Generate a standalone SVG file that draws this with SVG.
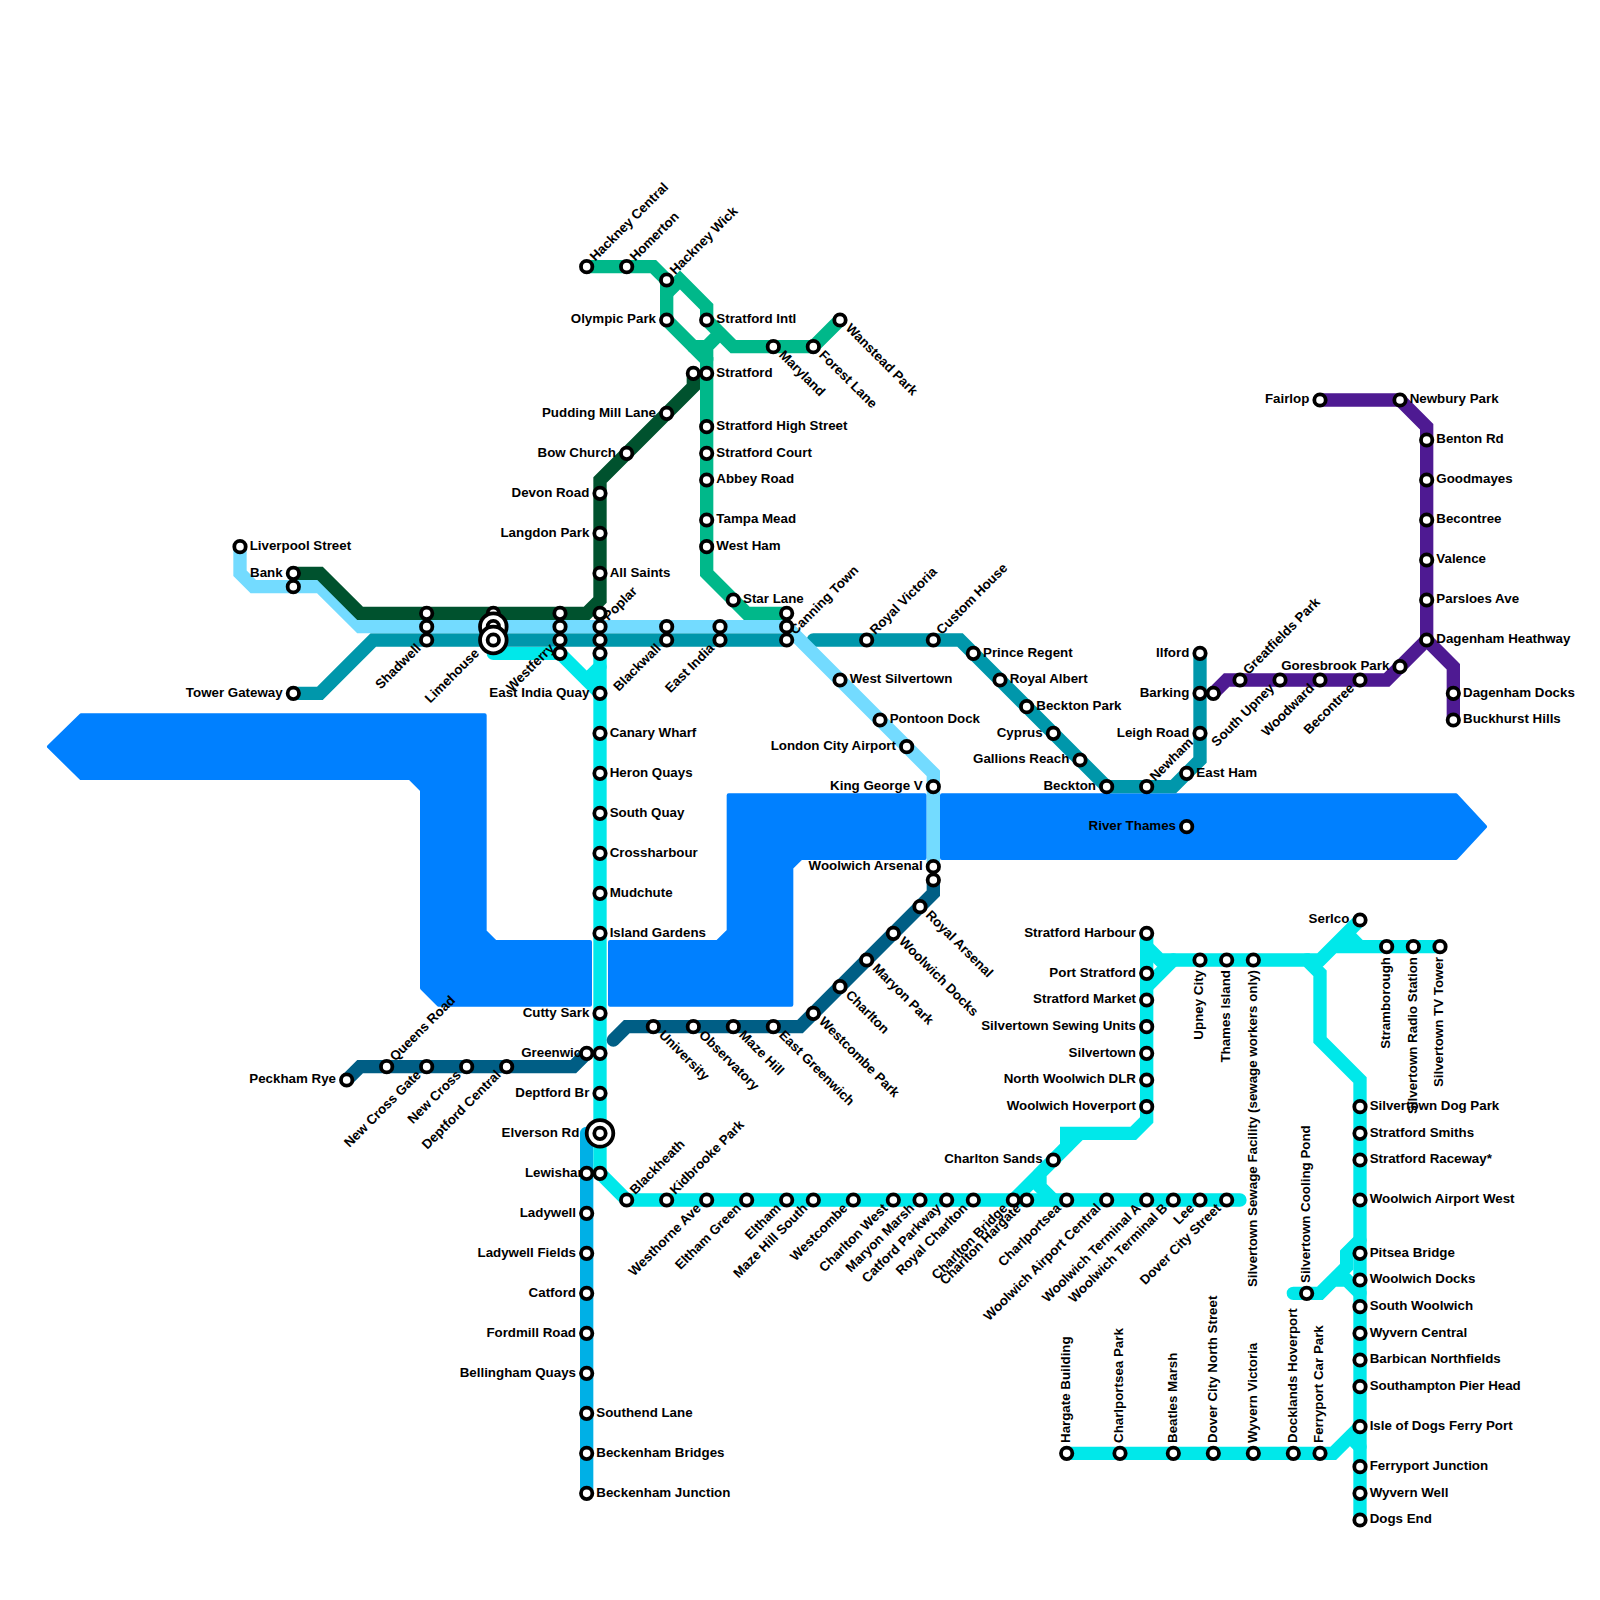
<svg xmlns="http://www.w3.org/2000/svg" width="1600" height="1600" viewBox="0 0 1600 1600">
<style>
.r{fill:#0080ff;stroke:#0080ff;stroke-width:4;stroke-linejoin:round}
.l{fill:none;stroke-width:13.33;stroke-linecap:round;stroke-linejoin:miter}
.cy{stroke:#00e8ea}.lb{stroke:#73dbff}.te{stroke:#0097ab}.dg{stroke:#00522e}.gr{stroke:#00b88a}.db{stroke:#005e85}.bb{stroke:#00b0e6}.pu{stroke:#4e1a92}
circle{fill:#fff;stroke:#000;stroke-width:3.8}
text{font:bold 13.33px "Liberation Sans",Arial,sans-serif;fill:#000}
.e{text-anchor:end}
text:not([transform]):not(.e){translate:-1px -1.3px}
text.e:not([transform]){translate:0 -1.3px}
text[transform*="rotate(45)"]{translate:-1.67px -1px}
text[transform*="rotate(-45)"]:not(.e){translate:1.83px 1.87px}
text.e[transform*="rotate(-45)"]{translate:0 -2px}
text[transform*="rotate(-90)"]{translate:-1.3px 0}
</style>
<g id="river">
<polygon class="r" points="49,746.67 81,715.33 484.67,715.33 484.67,931.5 495.2,942 590,942 590,1004.67 438.5,1004.67 422,988 422,790 410,778 81,778"/>
<polygon class="r" points="610,942 717.5,942 728.67,931 728.67,795.33 924.67,795.33 924.67,858 801,858 791.33,867.5 791.33,1004.67 610,1004.67"/>
<polygon class="r" points="942,795.33 1456,795.33 1485,826.67 1456,858 942,858"/>
</g>
<g id="connectors">
<path class="l bb" d="M586.67 1133.33V1493.33"/>
<path class="l cy" d="M600 653.33V1173.33L626.67 1200H1240"/>
<path class="l cy" d="M493.33 653.33H560L600 693.33M586.67 680L600 666.67"/>
<path class="l cy" d="M1146.67 933.33V1120L1133.33 1133.33H1066.67V1146.67L1013.33 1200M1080 1133.33L1040 1173.33V1186.67L1053.33 1200"/>
<path class="l cy" d="M1146.67 946.67L1160 960H1306.67L1320 973.33V1040L1360 1080V1520"/>
<path class="l cy" d="M1146.67 986.67L1173.33 960M1306.67 960H1320L1360 920M1333.33 946.67H1440M1346.67 933.33L1360 946.67"/>
<path class="l cy" d="M1293.33 1293.33H1320L1346.67 1266.67V1253.33L1360 1240M1333.33 1280H1346.67L1360 1293.33"/>
<path class="l cy" d="M1066.67 1453.33H1333.33L1360 1426.67M1350 1436.67L1360 1446.67"/>
<path class="l db" d="M346.67 1080L360 1066.67H573.33L586.67 1053.33"/>
<path class="l db" d="M613.33 1040L626.67 1026.67H800L933.33 893.33V880"/>
<path class="l gr" d="M586.67 266.67H653.33L666.67 280V320L706.67 360V573.33L746.67 613.33H786.67"/>
<path class="l gr" d="M666.67 293.33L680 280L706.67 306.67V320L733.33 346.67H813.33L840 320M720 333.33L706.67 346.67V360M693.33 346.67H706.67"/>
<path class="l te" d="M293.33 693.33H320L373.33 640H786.67"/>
<path class="l te" d="M813.33 640H960L1106.67 786.67H1173.33L1200 760V653.33"/>
<path class="l lb" d="M240 546.67V573.33L253.33 586.67H320L360 626.67H786.67L800 640L933.33 773.33V866.67"/>
<path class="l dg" d="M293.33 573.33H320L360 613.33H586.67L600 600V480L693.33 386.67V373.33"/>
<path class="l pu" d="M1320 400H1400L1426.67 426.67V640L1453.33 666.67V720M1426.67 640L1386.67 680H1226.67L1213.33 693.33"/>
</g>
<g id="n1"><text x="250.67" y="551.17">Liverpool Street</text><circle cx="240" cy="546.67" r="5.7"/></g>
<g id="n2"><text class="e" x="282.67" y="577.83">Bank</text><circle cx="293.33" cy="586.67" r="5.7"/><circle cx="293.33" cy="573.33" r="5.7"/></g>
<g id="n3"><text class="e" x="282.67" y="697.83">Tower Gateway</text><circle cx="293.33" cy="693.33" r="5.7"/></g>
<g id="n4"><text class="e" transform="translate(421.67 651) rotate(-45)">Shadwell</text><circle cx="426.67" cy="613.33" r="5.7"/><circle cx="426.67" cy="626.67" r="5.7"/><circle cx="426.67" cy="640" r="5.7"/></g>
<g id="n5"><text class="e" transform="translate(480 656) rotate(-45)">Limehouse</text><circle cx="493.33" cy="613.33" r="5.7"/><circle cx="493.33" cy="626.67" r="13.3"/><circle cx="493.33" cy="626.67" r="5.7"/><circle cx="493.33" cy="640" r="13.3"/><circle cx="493.33" cy="640" r="5.7"/></g>
<g id="n6"><text class="e" transform="translate(555 651) rotate(-45)">Westferry</text></g>
<g id="n6b"><circle cx="560" cy="613.33" r="5.7"/><circle cx="560" cy="626.67" r="5.7"/><circle cx="560" cy="640" r="5.7"/><circle cx="560" cy="653.33" r="5.7"/></g>
<g id="n7"><text transform="translate(606.67 619.5) rotate(-45)">Poplar</text><circle cx="600" cy="613.33" r="5.7"/><circle cx="600" cy="626.67" r="5.7"/><circle cx="600" cy="640" r="5.7"/><circle cx="600" cy="653.33" r="5.7"/></g>
<g id="n8"><text class="e" transform="translate(661.67 651) rotate(-45)">Blackwall</text><circle cx="666.67" cy="626.67" r="5.7"/><circle cx="666.67" cy="640" r="5.7"/></g>
<g id="n9"><text class="e" transform="translate(715 651) rotate(-45)">East India</text><circle cx="720" cy="626.67" r="5.7"/><circle cx="720" cy="640" r="5.7"/></g>
<g id="n10"><text transform="translate(793.33 633.33) rotate(-45)">Canning Town</text><circle cx="786.67" cy="613.33" r="5.7"/><circle cx="786.67" cy="626.67" r="5.7"/><circle cx="786.67" cy="640" r="5.7"/></g>
<g id="n11"><text class="e" x="589.33" y="697.83">East India Quay</text><circle cx="600" cy="693.33" r="5.7"/></g>
<g id="n12"><text x="610.67" y="737.83">Canary Wharf</text><circle cx="600" cy="733.33" r="5.7"/></g>
<g id="n13"><text x="610.67" y="777.83">Heron Quays</text><circle cx="600" cy="773.33" r="5.7"/></g>
<g id="n14"><text x="610.67" y="817.83">South Quay</text><circle cx="600" cy="813.33" r="5.7"/></g>
<g id="n15"><text x="610.67" y="857.83">Crossharbour</text><circle cx="600" cy="853.33" r="5.7"/></g>
<g id="n16"><text x="610.67" y="897.83">Mudchute</text><circle cx="600" cy="893.33" r="5.7"/></g>
<g id="n17"><text x="610.67" y="937.83">Island Gardens</text><circle cx="600" cy="933.33" r="5.7"/></g>
<g id="n18"><text class="e" x="589.33" y="1017.83">Cutty Sark</text><circle cx="600" cy="1013.33" r="5.7"/></g>
<g id="n19"><text class="e" x="589.33" y="1057.83">Greenwich</text><circle cx="600" cy="1053.33" r="5.7"/><circle cx="586.67" cy="1053.33" r="5.7"/></g>
<g id="n20"><text class="e" x="589.33" y="1097.83">Deptford Br</text><circle cx="600" cy="1093.33" r="5.7"/></g>
<g id="n21"><text class="e" x="579.33" y="1137.83">Elverson Rd</text><circle cx="600" cy="1133.33" r="13.3"/><circle cx="600" cy="1133.33" r="5.7"/></g>
<g id="n22"><text class="e" x="589.33" y="1177.83">Lewisham</text><circle cx="600" cy="1173.33" r="5.7"/><circle cx="586.67" cy="1173.33" r="5.7"/></g>
<g id="n23"><text class="e" x="576" y="1217.83">Ladywell</text><circle cx="586.67" cy="1213.33" r="5.7"/></g>
<g id="n24"><text class="e" x="576" y="1257.83">Ladywell Fields</text><circle cx="586.67" cy="1253.33" r="5.7"/></g>
<g id="n25"><text class="e" x="576" y="1297.83">Catford</text><circle cx="586.67" cy="1293.33" r="5.7"/></g>
<g id="n26"><text class="e" x="576" y="1337.83">Fordmill Road</text><circle cx="586.67" cy="1333.33" r="5.7"/></g>
<g id="n27"><text class="e" x="576" y="1377.83">Bellingham Quays</text><circle cx="586.67" cy="1373.33" r="5.7"/></g>
<g id="n28"><text x="597.33" y="1417.83">Southend Lane</text><circle cx="586.67" cy="1413.33" r="5.7"/></g>
<g id="n29"><text x="597.33" y="1457.83">Beckenham Bridges</text><circle cx="586.67" cy="1453.33" r="5.7"/></g>
<g id="n30"><text x="597.33" y="1497.83">Beckenham Junction</text><circle cx="586.67" cy="1493.33" r="5.7"/></g>
<g id="n31"><text class="e" x="336" y="1084.5">Peckham Rye</text><circle cx="346.67" cy="1080" r="5.7"/></g>
<g id="n32"><text transform="translate(393.33 1060) rotate(-45)">Queens Road</text><circle cx="386.67" cy="1066.67" r="5.7"/></g>
<g id="n33"><text class="e" transform="translate(421.67 1077.67) rotate(-45)">New Cross Gate</text><circle cx="426.67" cy="1066.67" r="5.7"/></g>
<g id="n34"><text class="e" transform="translate(461.67 1077.67) rotate(-45)">New Cross</text><circle cx="466.67" cy="1066.67" r="5.7"/></g>
<g id="n35"><text class="e" transform="translate(501.67 1077.67) rotate(-45)">Deptford Central</text><circle cx="506.67" cy="1066.67" r="5.7"/></g>
<g id="n36"><text transform="translate(660 1036.67) rotate(45)">University</text><circle cx="653.33" cy="1026.67" r="5.7"/></g>
<g id="n37"><text transform="translate(700 1036.67) rotate(45)">Observatory</text><circle cx="693.33" cy="1026.67" r="5.7"/></g>
<g id="n38"><text transform="translate(740 1036.67) rotate(45)">Maze Hill</text><circle cx="733.33" cy="1026.67" r="5.7"/></g>
<g id="n39"><text transform="translate(780 1036.67) rotate(45)">East Greenwich</text><circle cx="773.33" cy="1026.67" r="5.7"/></g>
<g id="n40"><text transform="translate(820 1023.33) rotate(45)">Westcombe Park</text><circle cx="813.33" cy="1013.33" r="5.7"/></g>
<g id="n41"><text transform="translate(846.67 996.67) rotate(45)">Charlton</text><circle cx="840" cy="986.67" r="5.7"/></g>
<g id="n42"><text transform="translate(873.33 970) rotate(45)">Maryon Park</text><circle cx="866.67" cy="960" r="5.7"/></g>
<g id="n43"><text transform="translate(900 943.33) rotate(45)">Woolwich Docks</text><circle cx="893.33" cy="933.33" r="5.7"/></g>
<g id="n44"><text transform="translate(926.67 916.67) rotate(45)">Royal Arsenal</text><circle cx="920" cy="906.67" r="5.7"/></g>
<g id="n45"><text class="e" x="922.67" y="871.17">Woolwich Arsenal</text><circle cx="933.33" cy="880" r="5.7"/><circle cx="933.33" cy="866.67" r="5.7"/></g>
<g id="n46"><text class="e" x="922.67" y="791.17">King George V</text><circle cx="933.33" cy="786.67" r="5.7"/></g>
<g id="n47"><text class="e" x="896" y="751.17">London City Airport</text><circle cx="906.67" cy="746.67" r="5.7"/></g>
<g id="n48"><text x="890.67" y="724.5">Pontoon Dock</text><circle cx="880" cy="720" r="5.7"/></g>
<g id="n49"><text x="850.67" y="684.5">West Silvertown</text><circle cx="840" cy="680" r="5.7"/></g>
<g id="n50"><text transform="translate(873.33 633.33) rotate(-45)">Royal Victoria</text><circle cx="866.67" cy="640" r="5.7"/></g>
<g id="n51"><text transform="translate(940 633.33) rotate(-45)">Custom House</text><circle cx="933.33" cy="640" r="5.7"/></g>
<g id="n52"><text x="984" y="657.83">Prince Regent</text><circle cx="973.33" cy="653.33" r="5.7"/></g>
<g id="n53"><text x="1010.67" y="684.5">Royal Albert</text><circle cx="1000" cy="680" r="5.7"/></g>
<g id="n54"><text x="1037.33" y="711.17">Beckton Park</text><circle cx="1026.67" cy="706.67" r="5.7"/></g>
<g id="n55"><text class="e" x="1042.67" y="737.83">Cyprus</text><circle cx="1053.33" cy="733.33" r="5.7"/></g>
<g id="n56"><text class="e" x="1069.33" y="764.5">Gallions Reach</text><circle cx="1080" cy="760" r="5.7"/></g>
<g id="n57"><text class="e" x="1096" y="791.17">Beckton</text><circle cx="1106.67" cy="786.67" r="5.7"/></g>
<g id="n58"><text transform="translate(1153.33 780) rotate(-45)">Newham</text><circle cx="1146.67" cy="786.67" r="5.7"/></g>
<g id="n59"><text x="1197.33" y="777.83">East Ham</text><circle cx="1186.67" cy="773.33" r="5.7"/></g>
<g id="n60"><text class="e" x="1189.33" y="737.83">Leigh Road</text><circle cx="1200" cy="733.33" r="5.7"/></g>
<g id="n61"><text class="e" x="1189.33" y="697.83">Barking</text><circle cx="1200" cy="693.33" r="5.7"/></g>
<g id="n62"><text class="e" x="1189.33" y="657.83">Ilford</text><circle cx="1200" cy="653.33" r="5.7"/></g>
<g id="n63"><text class="e" x="1176" y="831.17">River Thames</text><circle cx="1186.67" cy="826.67" r="5.7"/></g>
<g id="n64"><circle cx="1213.33" cy="693.33" r="5.7"/></g>
<g id="n65"><text transform="translate(1246.67 673.33) rotate(-45)">Greatfields Park</text><circle cx="1240" cy="680" r="5.7"/></g>
<g id="n66"><text class="e" transform="translate(1275 691) rotate(-45)">South Upney</text><circle cx="1280" cy="680" r="5.7"/></g>
<g id="n67"><text class="e" transform="translate(1315 691) rotate(-45)">Woodward</text><circle cx="1320" cy="680" r="5.7"/></g>
<g id="n68"><text class="e" transform="translate(1355 691) rotate(-45)">Becontree</text><circle cx="1360" cy="680" r="5.7"/></g>
<g id="n69"><text class="e" x="1389.33" y="671.17">Goresbrook Park</text><circle cx="1400" cy="666.67" r="5.7"/></g>
<g id="n70"><text class="e" x="1309.33" y="404.5">Fairlop</text><circle cx="1320" cy="400" r="5.7"/></g>
<g id="n71"><text x="1410.67" y="404.5">Newbury Park</text><circle cx="1400" cy="400" r="5.7"/></g>
<g id="n72"><text x="1437.33" y="444.5">Benton Rd</text><circle cx="1426.67" cy="440" r="5.7"/></g>
<g id="n73"><text x="1437.33" y="484.5">Goodmayes</text><circle cx="1426.67" cy="480" r="5.7"/></g>
<g id="n74"><text x="1437.33" y="524.5">Becontree</text><circle cx="1426.67" cy="520" r="5.7"/></g>
<g id="n75"><text x="1437.33" y="564.5">Valence</text><circle cx="1426.67" cy="560" r="5.7"/></g>
<g id="n76"><text x="1437.33" y="604.5">Parsloes Ave</text><circle cx="1426.67" cy="600" r="5.7"/></g>
<g id="n77"><text x="1437.33" y="644.5">Dagenham Heathway</text><circle cx="1426.67" cy="640" r="5.7"/></g>
<g id="n78"><text x="1464" y="697.83">Dagenham Docks</text><circle cx="1453.33" cy="693.33" r="5.7"/></g>
<g id="n79"><text x="1464" y="724.5">Buckhurst Hills</text><circle cx="1453.33" cy="720" r="5.7"/></g>
<g id="n80"><text transform="translate(593.33 260) rotate(-45)">Hackney Central</text><circle cx="586.67" cy="266.67" r="5.7"/></g>
<g id="n81"><text transform="translate(633.33 260) rotate(-45)">Homerton</text><circle cx="626.67" cy="266.67" r="5.7"/></g>
<g id="n82"><text transform="translate(673.33 273.33) rotate(-45)">Hackney Wick</text><circle cx="666.67" cy="280" r="5.7"/></g>
<g id="n83"><text class="e" x="656" y="324.5">Olympic Park</text><circle cx="666.67" cy="320" r="5.7"/></g>
<g id="n84"><text x="717.33" y="324.5">Stratford Intl</text><circle cx="706.67" cy="320" r="5.7"/></g>
<g id="n85"><text transform="translate(780 356.67) rotate(45)">Maryland</text><circle cx="773.33" cy="346.67" r="5.7"/></g>
<g id="n86"><text transform="translate(820 356.67) rotate(45)">Forest Lane</text><circle cx="813.33" cy="346.67" r="5.7"/></g>
<g id="n87"><text transform="translate(846.67 330) rotate(45)">Wanstead Park</text><circle cx="840" cy="320" r="5.7"/></g>
<g id="n88"><text x="717.33" y="377.83">Stratford</text><circle cx="693.33" cy="373.33" r="5.7"/><circle cx="706.67" cy="373.33" r="5.7"/></g>
<g id="n89"><text class="e" x="656" y="417.83">Pudding Mill Lane</text><circle cx="666.67" cy="413.33" r="5.7"/></g>
<g id="n90"><text class="e" x="616" y="457.83">Bow Church</text><circle cx="626.67" cy="453.33" r="5.7"/></g>
<g id="n91"><text class="e" x="589.33" y="497.83">Devon Road</text><circle cx="600" cy="493.33" r="5.7"/></g>
<g id="n92"><text class="e" x="589.33" y="537.83">Langdon Park</text><circle cx="600" cy="533.33" r="5.7"/></g>
<g id="n93"><text x="610.67" y="577.83">All Saints</text><circle cx="600" cy="573.33" r="5.7"/></g>
<g id="n94"><text x="717.33" y="431.17">Stratford High Street</text><circle cx="706.67" cy="426.67" r="5.7"/></g>
<g id="n95"><text x="717.33" y="457.83">Stratford Court</text><circle cx="706.67" cy="453.33" r="5.7"/></g>
<g id="n96"><text x="717.33" y="484.5">Abbey Road</text><circle cx="706.67" cy="480" r="5.7"/></g>
<g id="n97"><text x="717.33" y="524.5">Tampa Mead</text><circle cx="706.67" cy="520" r="5.7"/></g>
<g id="n98"><text x="717.33" y="551.17">West Ham</text><circle cx="706.67" cy="546.67" r="5.7"/></g>
<g id="n99"><text x="744" y="604.5">Star Lane</text><circle cx="733.33" cy="600" r="5.7"/></g>
<g id="n100"><text transform="translate(633.33 1193.33) rotate(-45)">Blackheath</text><circle cx="626.67" cy="1200" r="5.7"/></g>
<g id="n101"><text transform="translate(673.33 1193.33) rotate(-45)">Kidbrooke Park</text><circle cx="666.67" cy="1200" r="5.7"/></g>
<g id="n102"><text class="e" transform="translate(701.67 1211) rotate(-45)">Westhorne Ave</text><circle cx="706.67" cy="1200" r="5.7"/></g>
<g id="n103"><text class="e" transform="translate(741.67 1211) rotate(-45)">Eltham Green</text><circle cx="746.67" cy="1200" r="5.7"/></g>
<g id="n104"><text class="e" transform="translate(781.67 1211) rotate(-45)">Eltham</text><circle cx="786.67" cy="1200" r="5.7"/></g>
<g id="n105"><text class="e" transform="translate(808.33 1211) rotate(-45)">Maze Hill South</text><circle cx="813.33" cy="1200" r="5.7"/></g>
<g id="n106"><text class="e" transform="translate(848.33 1211) rotate(-45)">Westcombe</text><circle cx="853.33" cy="1200" r="5.7"/></g>
<g id="n107"><text class="e" transform="translate(888.33 1211) rotate(-45)">Charlton West</text><circle cx="893.33" cy="1200" r="5.7"/></g>
<g id="n108"><text class="e" transform="translate(915 1211) rotate(-45)">Maryon Marsh</text><circle cx="920" cy="1200" r="5.7"/></g>
<g id="n109"><text class="e" transform="translate(941.67 1211) rotate(-45)">Catford Parkway</text><circle cx="946.67" cy="1200" r="5.7"/></g>
<g id="n110"><text class="e" transform="translate(968.33 1211) rotate(-45)">Royal Charlton</text><circle cx="973.33" cy="1200" r="5.7"/></g>
<g id="n111"><text class="e" transform="translate(1008.33 1211) rotate(-45)">Charlton Bridge</text><circle cx="1013.33" cy="1200" r="5.7"/></g>
<g id="n112"><text class="e" transform="translate(1021.67 1211) rotate(-45)">Charlton Hargate</text><circle cx="1026.67" cy="1200" r="5.7"/></g>
<g id="n113"><text class="e" transform="translate(1061.67 1211) rotate(-45)">Charlportsea</text><circle cx="1066.67" cy="1200" r="5.7"/></g>
<g id="n114"><text class="e" transform="translate(1101.67 1211) rotate(-45)">Woolwich Airport Central</text><circle cx="1106.67" cy="1200" r="5.7"/></g>
<g id="n115"><text class="e" transform="translate(1141.67 1211) rotate(-45)">Woolwich Terminal A</text><circle cx="1146.67" cy="1200" r="5.7"/></g>
<g id="n116"><text class="e" transform="translate(1168.33 1211) rotate(-45)">Woolwich Terminal B</text><circle cx="1173.33" cy="1200" r="5.7"/></g>
<g id="n117"><text class="e" transform="translate(1195 1211) rotate(-45)">Lee</text><circle cx="1200" cy="1200" r="5.7"/></g>
<g id="n118"><text class="e" transform="translate(1221.67 1211) rotate(-45)">Dover City Street</text><circle cx="1226.67" cy="1200" r="5.7"/></g>
<g id="n119"><text class="e" x="1042.67" y="1164.5">Charlton Sands</text><circle cx="1053.33" cy="1160" r="5.7"/></g>
<g id="n120"><text class="e" x="1136" y="937.83">Stratford Harbour</text><circle cx="1146.67" cy="933.33" r="5.7"/></g>
<g id="n121"><text class="e" x="1136" y="977.83">Port Stratford</text><circle cx="1146.67" cy="973.33" r="5.7"/></g>
<g id="n122"><text class="e" x="1136" y="1004.5">Stratford Market</text><circle cx="1146.67" cy="1000" r="5.7"/></g>
<g id="n123"><text class="e" x="1136" y="1031.17">Silvertown Sewing Units</text><circle cx="1146.67" cy="1026.67" r="5.7"/></g>
<g id="n124"><text class="e" x="1136" y="1057.83">Silvertown</text><circle cx="1146.67" cy="1053.33" r="5.7"/></g>
<g id="n125"><text class="e" x="1136" y="1084.5">North Woolwich DLR</text><circle cx="1146.67" cy="1080" r="5.7"/></g>
<g id="n126"><text class="e" x="1136" y="1111.17">Woolwich Hoverport</text><circle cx="1146.67" cy="1106.67" r="5.7"/></g>
<g id="n127"><text class="e" transform="translate(1204.5 970) rotate(-90)">Upney City</text><circle cx="1200" cy="960" r="5.7"/></g>
<g id="n128"><text class="e" transform="translate(1231.17 970) rotate(-90)">Thames Island</text><circle cx="1226.67" cy="960" r="5.7"/></g>
<g id="n129"><text class="e" transform="translate(1257.83 970) rotate(-90)">Silvertown Sewage Facility (sewage workers only)</text><circle cx="1253.33" cy="960" r="5.7"/></g>
<g id="n130"><text class="e" x="1349.33" y="924.5">Serlco</text><circle cx="1360" cy="920" r="5.7"/></g>
<g id="n131"><text class="e" transform="translate(1391.17 957) rotate(-90)">Stramborough</text><circle cx="1386.67" cy="946.67" r="5.7"/></g>
<g id="n132"><text class="e" transform="translate(1417.83 957) rotate(-90)">Silvertown Radio Station</text><circle cx="1413.33" cy="946.67" r="5.7"/></g>
<g id="n133"><text class="e" transform="translate(1444.5 957) rotate(-90)">Silvertown TV Tower</text><circle cx="1440" cy="946.67" r="5.7"/></g>
<g id="n134"><text x="1370.67" y="1111.17">Silvertown Dog Park</text><circle cx="1360" cy="1106.67" r="5.7"/></g>
<g id="n135"><text x="1370.67" y="1137.83">Stratford Smiths</text><circle cx="1360" cy="1133.33" r="5.7"/></g>
<g id="n136"><text x="1370.67" y="1164.5">Stratford Raceway*</text><circle cx="1360" cy="1160" r="5.7"/></g>
<g id="n137"><text x="1370.67" y="1204.5">Woolwich Airport West</text><circle cx="1360" cy="1200" r="5.7"/></g>
<g id="n138"><text x="1370.67" y="1257.83">Pitsea Bridge</text><circle cx="1360" cy="1253.33" r="5.7"/></g>
<g id="n139"><text x="1370.67" y="1284.5">Woolwich Docks</text><circle cx="1360" cy="1280" r="5.7"/></g>
<g id="n140"><text x="1370.67" y="1311.17">South Woolwich</text><circle cx="1360" cy="1306.67" r="5.7"/></g>
<g id="n141"><text x="1370.67" y="1337.83">Wyvern Central</text><circle cx="1360" cy="1333.33" r="5.7"/></g>
<g id="n142"><text x="1370.67" y="1364.5">Barbican Northfields</text><circle cx="1360" cy="1360" r="5.7"/></g>
<g id="n143"><text x="1370.67" y="1391.17">Southampton Pier Head</text><circle cx="1360" cy="1386.67" r="5.7"/></g>
<g id="n144"><text x="1370.67" y="1431.17">Isle of Dogs Ferry Port</text><circle cx="1360" cy="1426.67" r="5.7"/></g>
<g id="n145"><text x="1370.67" y="1471.17">Ferryport Junction</text><circle cx="1360" cy="1466.67" r="5.7"/></g>
<g id="n146"><text x="1370.67" y="1497.83">Wyvern Well</text><circle cx="1360" cy="1493.33" r="5.7"/></g>
<g id="n147"><text x="1370.67" y="1524.5">Dogs End</text><circle cx="1360" cy="1520" r="5.7"/></g>
<g id="n148"><text transform="translate(1311.17 1283) rotate(-90)">Silvertown Cooling Pond</text><circle cx="1306.67" cy="1293.33" r="5.7"/></g>
<g id="n149"><text transform="translate(1071.17 1443) rotate(-90)">Hargate Building</text><circle cx="1066.67" cy="1453.33" r="5.7"/></g>
<g id="n150"><text transform="translate(1124.5 1443) rotate(-90)">Charlportsea Park</text><circle cx="1120" cy="1453.33" r="5.7"/></g>
<g id="n151"><text transform="translate(1177.83 1443) rotate(-90)">Beatles Marsh</text><circle cx="1173.33" cy="1453.33" r="5.7"/></g>
<g id="n152"><text transform="translate(1217.83 1443) rotate(-90)">Dover City North Street</text><circle cx="1213.33" cy="1453.33" r="5.7"/></g>
<g id="n153"><text transform="translate(1257.83 1443) rotate(-90)">Wyvern Victoria</text><circle cx="1253.33" cy="1453.33" r="5.7"/></g>
<g id="n154"><text transform="translate(1297.83 1443) rotate(-90)">Docklands Hoverport</text><circle cx="1293.33" cy="1453.33" r="5.7"/></g>
<g id="n155"><text transform="translate(1324.5 1443) rotate(-90)">Ferryport Car Park</text><circle cx="1320" cy="1453.33" r="5.7"/></g>
</svg>
